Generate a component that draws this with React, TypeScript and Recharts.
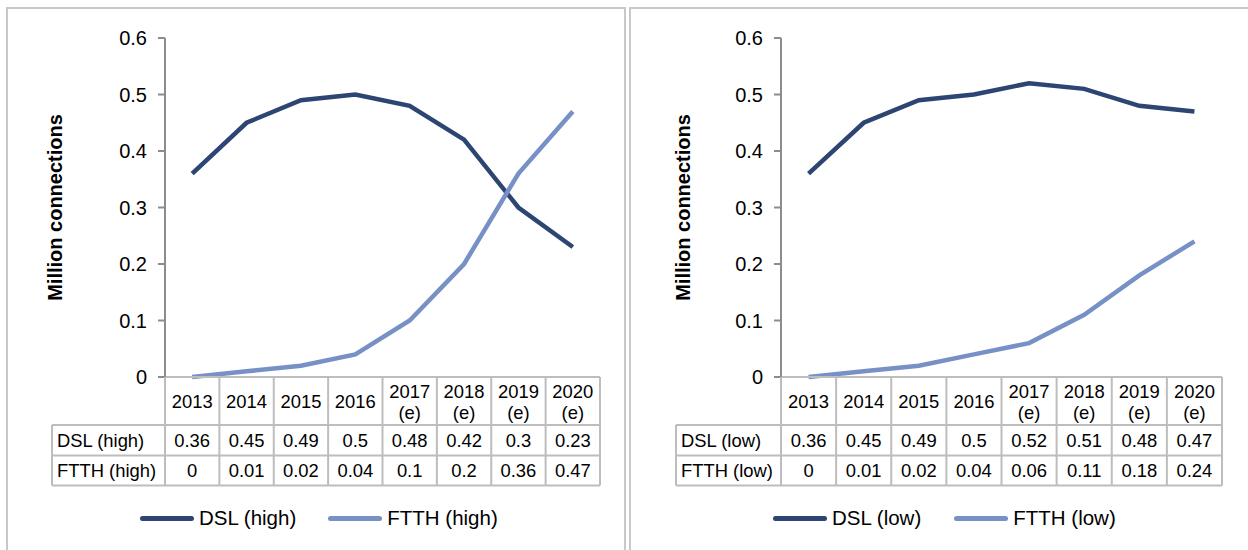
import React from 'react';
import { LineChart, Line, XAxis, YAxis } from 'recharts';

const categories = ['2013', '2014', '2015', '2016', '2017\n(e)', '2018\n(e)', '2019\n(e)', '2020\n(e)'];
const dslHigh = [0.36, 0.45, 0.49, 0.5, 0.48, 0.42, 0.3, 0.23];
const ftthHigh = [0, 0.01, 0.02, 0.04, 0.1, 0.2, 0.36, 0.47];
const dslLow = [0.36, 0.45, 0.49, 0.5, 0.52, 0.51, 0.48, 0.47];
const ftthLow = [0, 0.01, 0.02, 0.04, 0.06, 0.11, 0.18, 0.24];
const yTicks = [0, 0.1, 0.2, 0.3, 0.4, 0.5, 0.6];

const DSL_COLOR = '#2C4572';
const FTTH_COLOR = '#7790C6';
const GRID = '#BDBDBD';
const FONT = 'Liberation Sans, Arial, sans-serif';

type PanelCfg = {
  left: number;
  width: number;
  marginLeft: number;
  marginRight: number;
  labelW: number;
  dslName: string;
  ftthName: string;
  dsl: number[];
  ftth: number[];
  legendLeft: number;
  ftthGap: number;
};

const PLOT_TOP = 38;
const PLOT_BOTTOM = 377;
const H = 550;
const Y_AXIS_W = 60;
const X_AXIS_H = 110;
const TFS = 18.4;

function makeTick(cfg: PanelCfg, colW: number) {
  return (props: any) => {
    const { x, y, index } = props;
    const cat = categories[index];
    const lines = cat.split('\n');
    const x0 = x - colW / 2;
    const x1 = x + colW / 2;
    const rowHead = y + 48;
    const row1 = rowHead + 30.5;
    const row2 = row1 + 30;
    const last = index === categories.length - 1;
    return (
      <g fontFamily={FONT} fill="#000">
        <line x1={x0} x2={x0} y1={y} y2={row2} stroke={GRID} strokeWidth={2} />
        {last && <line x1={x1} x2={x1} y1={y} y2={row2} stroke={GRID} strokeWidth={2} />}
        <line x1={x0} x2={x1} y1={rowHead} y2={rowHead} stroke={GRID} strokeWidth={2} />
        <line x1={x0} x2={x1} y1={row1} y2={row1} stroke={GRID} strokeWidth={2} />
        <line x1={x0} x2={x1} y1={row2} y2={row2} stroke={GRID} strokeWidth={2} />
        {lines.length === 1 ? (
          <text x={x} y={y + 24} textAnchor="middle" dominantBaseline="central" fontSize={TFS}>{lines[0]}</text>
        ) : (
          <>
            <text x={x} y={y + 14} textAnchor="middle" dominantBaseline="central" fontSize={TFS}>{lines[0]}</text>
            <text x={x} y={y + 35} textAnchor="middle" dominantBaseline="central" fontSize={TFS}>{lines[1]}</text>
          </>
        )}
        <text x={x} y={rowHead + 15.5} textAnchor="middle" dominantBaseline="central" fontSize={TFS}>{String(cfg.dsl[index])}</text>
        <text x={x} y={row1 + 15} textAnchor="middle" dominantBaseline="central" fontSize={TFS}>{String(cfg.ftth[index])}</text>
        {index === 0 && (
          <>
            <line x1={x0 - cfg.labelW} x2={x0} y1={rowHead} y2={rowHead} stroke={GRID} strokeWidth={2} />
            <line x1={x0 - cfg.labelW} x2={x0} y1={row1} y2={row1} stroke={GRID} strokeWidth={2} />
            <line x1={x0 - cfg.labelW} x2={x0} y1={row2} y2={row2} stroke={GRID} strokeWidth={2} />
            <line x1={x0 - cfg.labelW} x2={x0 - cfg.labelW} y1={rowHead} y2={row2} stroke={GRID} strokeWidth={2} />
            <text x={x0 - cfg.labelW + 5} y={rowHead + 15.5} dominantBaseline="central" fontSize={TFS}>{cfg.dslName}</text>
            <text x={x0 - cfg.labelW + 5} y={row1 + 15} dominantBaseline="central" fontSize={TFS}>{cfg.ftthName}</text>
          </>
        )}
      </g>
    );
  };
}

function Panel({ cfg }: { cfg: PanelCfg }) {
  const data = categories.map((c, i) => ({ cat: c, dsl: cfg.dsl[i], ftth: cfg.ftth[i] }));
  const plotW = cfg.width - cfg.marginLeft - Y_AXIS_W - cfg.marginRight;
  const colW = plotW / categories.length;
  const titleX = 55;
  const titleY = (PLOT_TOP + PLOT_BOTTOM) / 2;
  return (
    <div style={{ position: 'absolute', left: cfg.left, top: 0, width: cfg.width, height: H }}>
      <LineChart
        width={cfg.width}
        height={H}
        data={data}
        margin={{ top: PLOT_TOP, right: cfg.marginRight, left: cfg.marginLeft, bottom: H - PLOT_BOTTOM - X_AXIS_H }}
      >
        <XAxis
          dataKey="cat"
          interval={0}
          height={X_AXIS_H}
          padding={{ left: colW / 2, right: colW / 2 }}
          axisLine={{ stroke: GRID, strokeWidth: 2 }}
          tickLine={false}
          tickSize={0}
          tickMargin={0}
          tick={makeTick(cfg, colW)}
        />
        <YAxis
          width={Y_AXIS_W}
          domain={[0, 0.6]}
          ticks={yTicks}
          interval={0}
          axisLine={{ stroke: '#8C8C8C', strokeWidth: 2 }}
          tickLine={{ stroke: '#8C8C8C', strokeWidth: 2 }}
          tickSize={7}
          tickMargin={11}
          tick={{ fill: '#000', fontSize: 20, fontFamily: FONT }}
          label={{
            content: () => (
              <text
                x={titleX}
                y={titleY}
                transform={`rotate(-90 ${titleX} ${titleY})`}
                textAnchor="middle"
                dominantBaseline="central"
                fontFamily={FONT}
                fontWeight="bold"
                fontSize={20}
                fill="#000"
              >
                Million connections
              </text>
            ),
          }}
        />
        <Line type="linear" dataKey="dsl" name={cfg.dslName} stroke={DSL_COLOR} strokeWidth={4.5} dot={false} isAnimationActive={false} />
        <Line type="linear" dataKey="ftth" name={cfg.ftthName} stroke={FTTH_COLOR} strokeWidth={4.5} dot={false} isAnimationActive={false} />
      </LineChart>
      <div
        style={{
          position: 'absolute', left: 0, top: 504, width: cfg.width, height: 28,
          display: 'flex', alignItems: 'center', fontFamily: FONT, fontSize: 20.5, color: '#000',
          paddingLeft: cfg.legendLeft, boxSizing: 'border-box',
        }}
      >
        <span style={{ display: 'inline-block', width: 54, height: 5, borderRadius: 3, background: DSL_COLOR }} />
        <span style={{ marginLeft: 5 }}>{cfg.dslName}</span>
        <span style={{ display: 'inline-block', width: 54, height: 5, borderRadius: 3, background: FTTH_COLOR, marginLeft: cfg.ftthGap }} />
        <span style={{ marginLeft: 5 }}>{cfg.ftthName}</span>
      </div>
    </div>
  );
}

const leftCfg: PanelCfg = {
  left: 0,
  width: 628,
  marginLeft: 105,
  marginRight: 28,
  labelW: 113,
  dslName: 'DSL (high)',
  ftthName: 'FTTH (high)',
  dsl: dslHigh,
  ftth: ftthHigh,
  legendLeft: 140,
  ftthGap: 32,
};

const rightCfg: PanelCfg = {
  left: 628,
  width: 620,
  marginLeft: 93,
  marginRight: 26,
  labelW: 105,
  dslName: 'DSL (low)',
  ftthName: 'FTTH (low)',
  dsl: dslLow,
  ftth: ftthLow,
  legendLeft: 145,
  ftthGap: 33,
};

export default function App() {
  return (
    <div style={{ position: 'absolute', left: 0, top: 0, width: 1248, height: 550, background: '#fff', overflow: 'hidden' }}>
      <div style={{ position: 'absolute', left: 6, top: 7, width: 620, height: 560, border: '2px solid #C8C8C8', boxSizing: 'border-box' }} />
      <div style={{ position: 'absolute', left: 629, top: 7, width: 640, height: 560, border: '2px solid #C8C8C8', boxSizing: 'border-box' }} />
      <Panel cfg={leftCfg} />
      <Panel cfg={rightCfg} />
    </div>
  );
}
